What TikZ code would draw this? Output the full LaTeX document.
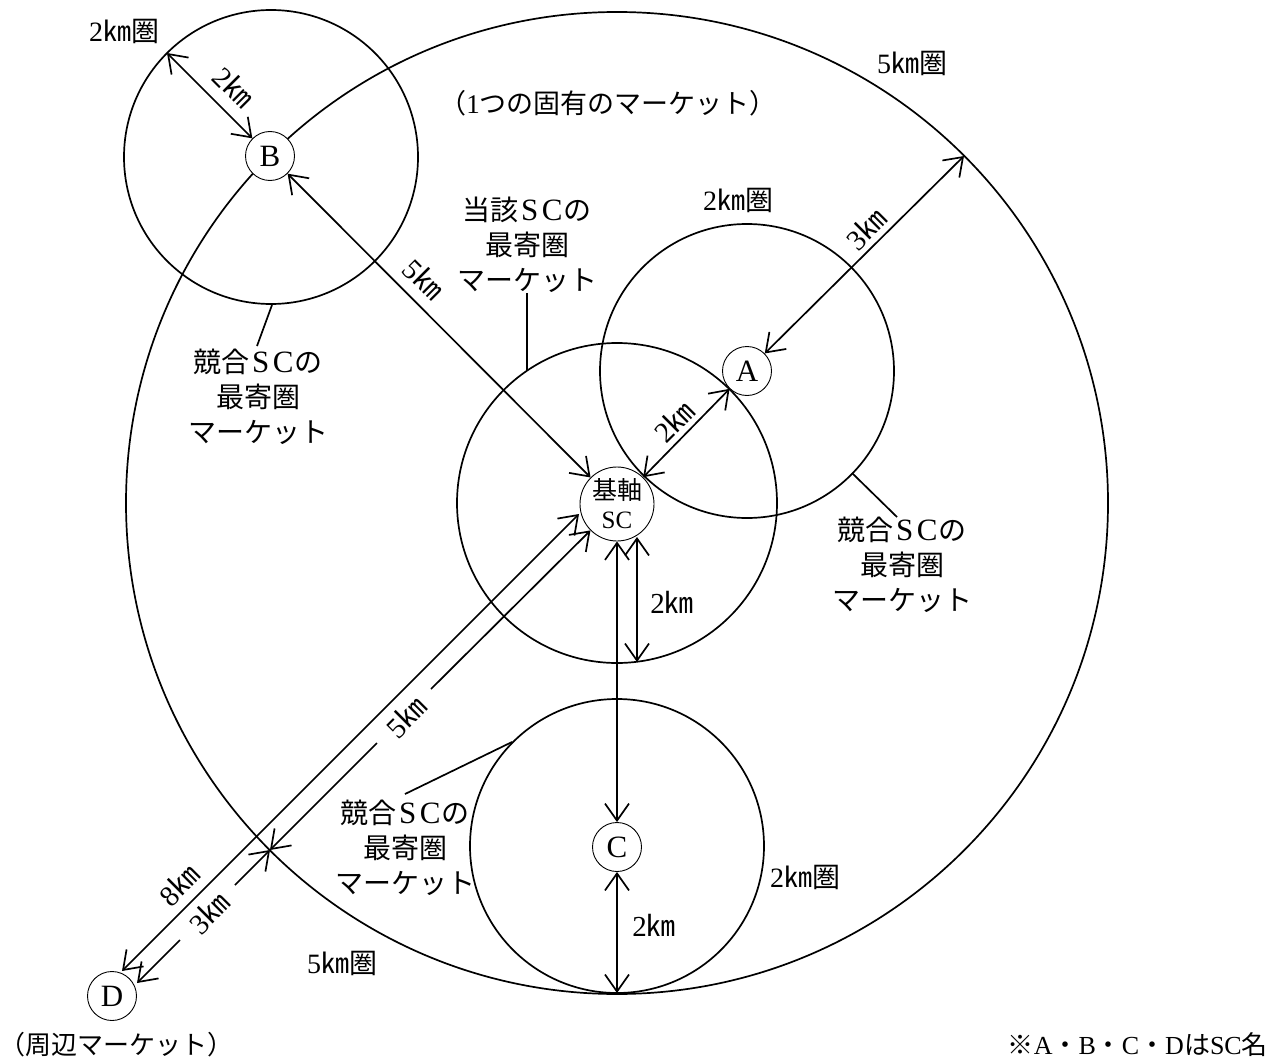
\documentclass[tikz,border=0pt]{standalone}
\usepackage{fontspec}
\setmainfont{Liberation Serif}
\newfontfamily\jp{Noto Sans CJK JP}
\usetikzlibrary{arrows.meta}
\newcommand\J[1]{{\jp #1}}
\newcommand\FW[1]{\makebox[0.8em]{\fontsize{31}{31}\selectfont #1}}
\begin{document}
\begin{tikzpicture}[x=1pt,y=-1pt,
  ring/.style={line width=1.7pt},
  conn/.style={line width=1.7pt,{Straight Barb[length=17pt,width=24pt]}-{Straight Barb[length=17pt,width=24pt]}},
  oneend/.style={line width=1.7pt,-{Straight Barb[length=17pt,width=24pt]}},
  lead/.style={line width=1.7pt},
  sc/.style={circle,draw,line width=0.9pt,fill=white,minimum size=49pt,inner sep=0pt,font=\fontsize{31}{31}\selectfont},
  lbl/.style={font=\fontsize{28}{35}\selectfont,align=center,inner sep=0pt},
  km/.style={font=\fontsize{29}{30}\selectfont,inner sep=0pt}]
\useasboundingbox (0,0) rectangle (1272,1062);
% rings
\draw[ring] (617,503) circle[radius=491pt];
\draw[ring] (617,503) circle[radius=160pt];
\draw[ring] (747,371) circle[radius=147pt];
\draw[ring] (271,157) circle[radius=147pt];
\draw[ring] (617,846) circle[radius=147pt];
% SC nodes
\node[sc,minimum size=74pt,font=\fontsize{25}{29}\selectfont,align=center] (base) at (617,504) {\J{基軸}\\SC};
\node[sc] (A) at (747,371) {A};
\node[sc] (B) at (270,156) {B};
\node[sc] (C) at (617,847) {C};
\node[sc] (D) at (112,996) {D};
% coordinates
\coordinate (bE) at (167,53);
\coordinate (aE) at (964,156);
\coordinate (X) at (270,850);
\coordinate (bot) at (617,993);
\coordinate (v1) at (637,537);
\coordinate (v2) at (637,662);
\coordinate (e1) at (579,514);
\coordinate (e2) at (122,971);
\coordinate (g5a) at (431,689);
\coordinate (g5b) at (377,743);
\coordinate (g3a) at (235,885);
\coordinate (g3b) at (180,940);
\coordinate (dE) at (137,983);
% connectors
\draw[conn] (bE) -- (B);
\draw[conn] (B) -- (base);
\draw[conn] (base) -- (A);
\draw[conn] (A) -- (aE);
\draw[conn] (base) -- (C);
\draw[conn] (v1) -- (v2);
\draw[conn] (C) -- (bot);
\draw[conn] (e1) -- (e2);
\draw[oneend] (g5a) -- (base);
\draw[oneend] (g5b) -- (X);
\draw[oneend] (g3a) -- (X);
\draw[oneend] (g3b) -- (dE);
% distance labels
\node[km,rotate=-45] (lB2) at (234,87) {2\J{㎞}};
\node[km,rotate=-45] (lB5) at (424,279) {5\J{㎞}};
\node[km,rotate=45] (lA2) at (674,421) {2\J{㎞}};
\node[km,rotate=45] (lA3) at (866,229) {3\J{㎞}};
\node[km,rotate=45] (l8) at (179,885) {8\J{㎞}};
\node[km,rotate=45] (l5) at (406,717) {5\J{㎞}};
\node[km,rotate=45] (l3) at (209,913) {3\J{㎞}};
\node[km] (lv2) at (672,602) {2\J{㎞}};
\node[km] (lC2) at (654,925) {2\J{㎞}};
% texts
\node[lbl] (tTL) at (124,31) {2\J{㎞圏}};
\node[lbl] (tTR) at (912,63) {5\J{㎞圏}};
\node[lbl,font=\fontsize{27}{35}\selectfont] (tMk) at (608,103) {\J{（}1\J{つの固有のマーケット）}};
\node[lbl] (tA) at (738,200) {2\J{㎞圏}};
\node[lbl] (tSelf) at (527,245) {\J{当該}\FW{S}\FW{C}\J{の}\\\J{最寄圏}\\\J{マーケット}};
\node[lbl] (tL) at (258,397) {\J{競合}\FW{S}\FW{C}\J{の}\\\J{最寄圏}\\\J{マーケット}};
\node[lbl] (tR) at (902,565) {\J{競合}\FW{S}\FW{C}\J{の}\\\J{最寄圏}\\\J{マーケット}};
\node[lbl] (tBm) at (405,848) {\J{競合}\FW{S}\FW{C}\J{の}\\\J{最寄圏}\\\J{マーケット}};
\node[lbl] (tC) at (805,877) {2\J{㎞圏}};
\node[lbl] (tBL) at (342,963) {5\J{㎞圏}};
\node[lbl,font=\fontsize{26}{35}\selectfont] (tD) at (116,1045) {\J{（周辺マーケット）}};
\node[lbl,anchor=east,font=\fontsize{26}{35}\selectfont] (tNote) at (1268,1045) {\J{※}A\J{・}B\J{・}C\J{・}D\J{は}SC\J{名}};
% leader lines
\coordinate (ls) at (527,371);
\coordinate (lL) at (272,305);
\coordinate (lR) at (852,473);
\coordinate (lBm) at (512,742);
\draw[lead] (tSelf.south) -- (ls);
\draw[lead] (lL) -- ([xshift=-1pt,yshift=3pt]tL.north);
\draw[lead] (lR) -- ([xshift=-5pt]tR.north);
\draw[lead] (lBm) -- ([yshift=6pt]tBm.north);
\end{tikzpicture}
\end{document}
